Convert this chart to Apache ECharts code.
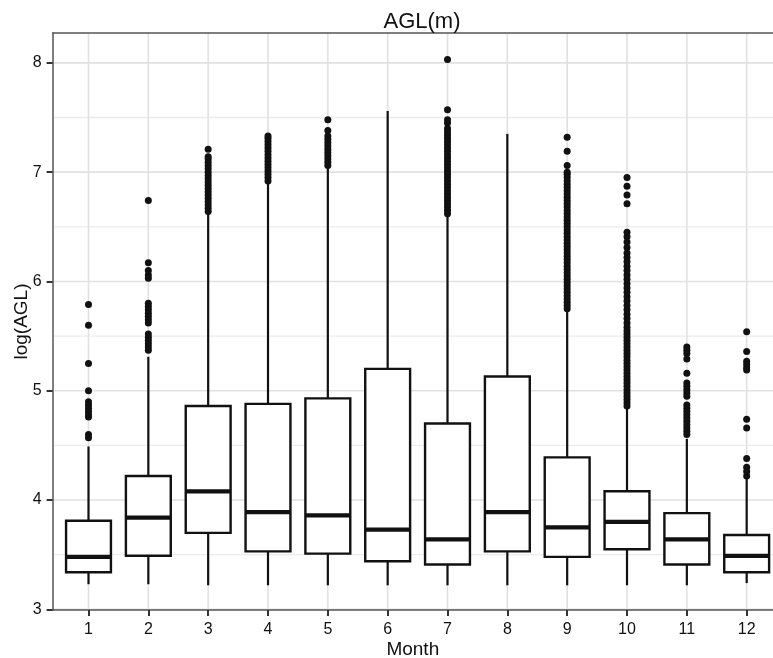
<!DOCTYPE html>
<html>
<head>
<meta charset="utf-8">
<script src="https://cdn.jsdelivr.net/npm/echarts@6/dist/echarts.min.js"></script>
<style>
  html, body { margin: 0; padding: 0; background: #fff; }
  #chart { width: 773px; height: 658px; }
</style>
</head>
<body>
<div id="chart"></div>
<script>
// Monthly distribution of log(AGL): five-number summaries per month
const months = [1, 2, 3, 4, 5, 6, 7, 8, 9, 10, 11, 12];
const lowWhisker  = [3.23, 3.23, 3.22, 3.22, 3.22, 3.22, 3.22, 3.22, 3.22, 3.22, 3.22, 3.24];
const q1          = [3.34, 3.49, 3.70, 3.53, 3.51, 3.44, 3.41, 3.53, 3.48, 3.55, 3.41, 3.34];
const medians     = [3.48, 3.84, 4.08, 3.89, 3.86, 3.73, 3.64, 3.89, 3.75, 3.80, 3.64, 3.49];
const q3          = [3.81, 4.22, 4.86, 4.88, 4.93, 5.20, 4.70, 5.13, 4.39, 4.08, 3.88, 3.68];
const highWhisker = [4.49, 5.31, 6.63, 6.91, 7.05, 7.56, 6.61, 7.35, 5.74, 4.85, 4.56, 4.20];

// Outlying observations above the upper whisker, one list per month
const outliers1 = [5.79, 5.60, 5.25, 5.00, 4.90, 4.87, 4.84, 4.81, 4.78, 4.76, 4.60, 4.57];
const outliers2 = [6.74, 6.17, 6.10, 6.06, 6.03, 5.80, 5.77, 5.74, 5.71, 5.68, 5.65, 5.62,
                   5.52, 5.49, 5.46, 5.43, 5.40, 5.37];
const outliers3 = [6.64, 6.67, 6.70, 6.73, 6.76, 6.79, 6.82, 6.85, 6.88, 6.91, 6.94, 6.97,
                   7.00, 7.03, 7.06, 7.09, 7.12, 7.14, 7.21];
const outliers4 = [6.92, 6.95, 6.98, 7.01, 7.04, 7.07, 7.10, 7.13, 7.16, 7.19, 7.22, 7.25,
                   7.28, 7.31, 7.33];
const outliers5 = [7.06, 7.09, 7.12, 7.15, 7.18, 7.21, 7.24, 7.27, 7.30, 7.33, 7.38, 7.48];
const outliers6 = [];
const outliers7 = [6.62, 6.65, 6.68, 6.71, 6.74, 6.77, 6.80, 6.83, 6.86, 6.89, 6.92, 6.95,
                   6.98, 7.01, 7.04, 7.07, 7.10, 7.13, 7.16, 7.19, 7.22, 7.25, 7.28, 7.31,
                   7.34, 7.37, 7.40, 7.45, 7.48, 7.57, 8.03];
const outliers8 = [];
const outliers9 = [5.75, 5.78, 5.81, 5.84, 5.87, 5.90, 5.93, 5.96, 5.99, 6.02, 6.05, 6.08,
                   6.11, 6.14, 6.17, 6.20, 6.23, 6.26, 6.29, 6.32, 6.35, 6.38, 6.41, 6.44,
                   6.47, 6.50, 6.53, 6.56, 6.59, 6.62, 6.65, 6.68, 6.71, 6.74, 6.77, 6.80,
                   6.83, 6.86, 6.89, 6.92, 6.95, 6.98, 7.00, 7.06, 7.19, 7.32];
const outliers10 = [4.86, 4.89, 4.92, 4.95, 4.98, 5.01, 5.04, 5.07, 5.10, 5.13, 5.16, 5.19,
                    5.22, 5.25, 5.28, 5.31, 5.34, 5.37, 5.40, 5.43, 5.46, 5.49, 5.52, 5.55,
                    5.58, 5.62, 5.66, 5.70, 5.74, 5.78, 5.82, 5.86, 5.90, 5.94, 5.98, 6.02,
                    6.06, 6.10, 6.14, 6.18, 6.22, 6.26, 6.31, 6.36, 6.41, 6.45,
                    6.71, 6.79, 6.87, 6.95];
const outliers11 = [5.40, 5.37, 5.34, 5.29, 5.16, 5.07, 5.04, 5.01, 4.98, 4.95, 4.87, 4.84,
                    4.81, 4.78, 4.75, 4.72, 4.69, 4.66, 4.63, 4.60];
const outliers12 = [5.54, 5.36, 5.27, 5.24, 5.21, 5.19, 4.74, 4.66, 4.38, 4.30, 4.26, 4.22];

const outlierLists = [outliers1, outliers2, outliers3, outliers4, outliers5, outliers6,
                      outliers7, outliers8, outliers9, outliers10, outliers11, outliers12];

// Axis ticks
const yTicks = [3, 4, 5, 6, 7, 8];
const xTickLabels = ['1', '2', '3', '4', '5', '6', '7', '8', '9', '10', '11', '12'];

// Visible window of the panel (it runs on past the right edge of the page)
const X_MIN = 0.4, X_MAX = 12.44;
const Y_MIN = 2.994, Y_MAX = 8.273;
const INK = '#111111';
const FRAME = '#555555';
const FONT = 'Liberation Sans, Arial, sans-serif';

const boxData = months.map((m, i) => [m, lowWhisker[i], q1[i], medians[i], q3[i], highWhisker[i]]);
const outlierData = [];
outlierLists.forEach((list, i) => list.forEach(v => outlierData.push([months[i], v])));

const yMinor = yTicks.slice(0, -1).map((t, i) => (t + yTicks[i + 1]) / 2);
const hGridMajor = yTicks.map(v => [months[0], v]);
const hGridMinor = yMinor.map(v => [months[0], v]);
const vGrid = months.map(m => [m, yTicks[0]]);

function gridLineRenderer(orient, color, width) {
  return function (params, api) {
    const cs = params.coordSys;
    const p = api.coord([api.value(0), api.value(1)]);
    const shape = orient === 'h'
      ? { x1: cs.x, y1: p[1], x2: cs.x + cs.width, y2: p[1] }
      : { x1: p[0], y1: cs.y, x2: p[0], y2: cs.y + cs.height };
    return { type: 'line', shape: shape, style: { stroke: color, lineWidth: width }, silent: true };
  };
}

function renderBox(params, api) {
  const x = api.value(0);
  const pLow = api.coord([x, api.value(1)]);
  const pQ1 = api.coord([x, api.value(2)]);
  const pMed = api.coord([x, api.value(3)]);
  const pQ3 = api.coord([x, api.value(4)]);
  const pHigh = api.coord([x, api.value(5)]);
  const half = api.size([0.75, 0])[0] / 2;
  const cx = pMed[0];
  const whisker = { stroke: INK, lineWidth: 2.2, fill: null };
  return {
    type: 'group',
    children: [
      { type: 'line', shape: { x1: cx, y1: pLow[1], x2: cx, y2: pQ1[1] }, style: whisker },
      { type: 'line', shape: { x1: cx, y1: pQ3[1], x2: cx, y2: pHigh[1] }, style: whisker },
      { type: 'rect', shape: { x: cx - half, y: pQ3[1], width: half * 2, height: pQ1[1] - pQ3[1] },
        style: { stroke: INK, lineWidth: 2.4, fill: '#ffffff' } },
      { type: 'line', shape: { x1: cx - half, y1: pMed[1], x2: cx + half, y2: pMed[1] },
        style: { stroke: INK, lineWidth: 4.2 } }
    ]
  };
}

const chart = echarts.init(document.getElementById('chart'), null, { renderer: 'canvas' });
chart.setOption({
  backgroundColor: '#ffffff',
  animation: false,
  title: {
    text: 'AGL(m)',
    left: 417,
    top: 6,
    textAlign: 'center',
    textStyle: { fontFamily: FONT, fontSize: 22, fontWeight: 'normal', color: INK }
  },
  grid: {
    left: 52.6, top: 33, right: 0, bottom: 48,
    show: false, containLabel: false, outerBoundsMode: 'none'
  },
  xAxis: [
    {
      type: 'value', min: X_MIN, max: X_MAX, position: 'bottom',
      name: 'Month', nameLocation: 'middle', nameGap: 30, nameMoveOverlap: false,
      nameTextStyle: { fontFamily: FONT, fontSize: 19, color: INK },
      axisLine: { show: true, lineStyle: { color: FRAME, width: 1.5 } },
      axisTick: { show: true, customValues: months, length: 6, lineStyle: { color: '#333', width: 2 } },
      axisLabel: {
        customValues: months, margin: 12,
        fontFamily: FONT, fontSize: 16, color: '#111',
        formatter: v => xTickLabels[months.indexOf(Math.round(v))]
      },
      splitLine: { show: false }
    },
    {
      // top edge of the panel frame
      type: 'value', min: X_MIN, max: X_MAX, position: 'top',
      axisLine: { show: true, lineStyle: { color: FRAME, width: 1.5 } },
      axisTick: { show: false }, axisLabel: { show: false }, splitLine: { show: false }
    }
  ],
  yAxis: {
    type: 'value', min: Y_MIN, max: Y_MAX,
    name: 'log(AGL)', nameLocation: 'middle', nameGap: 21, nameRotate: 90, nameMoveOverlap: false,
    nameTextStyle: { fontFamily: FONT, fontSize: 19, color: INK },
    axisLine: { show: true, lineStyle: { color: FRAME, width: 1.5 } },
    axisTick: { show: true, customValues: yTicks, length: 6, lineStyle: { color: '#333', width: 2 } },
    axisLabel: { customValues: yTicks, margin: 11, fontFamily: FONT, fontSize: 16, color: '#111' },
    splitLine: { show: false }
  },
  series: [
    { type: 'custom', name: 'minorGrid', data: hGridMinor, z: 0, silent: true,
      encode: { x: 0, y: 1 }, renderItem: gridLineRenderer('h', '#ececec', 1.3) },
    { type: 'custom', name: 'majorGridH', data: hGridMajor, z: 0, silent: true,
      encode: { x: 0, y: 1 }, renderItem: gridLineRenderer('h', '#e1e1e1', 1.6) },
    { type: 'custom', name: 'majorGridV', data: vGrid, z: 0, silent: true,
      encode: { x: 0, y: 1 }, renderItem: gridLineRenderer('v', '#e1e1e1', 1.6) },
    { type: 'custom', name: 'boxes', data: boxData, z: 2,
      encode: { x: 0, y: [1, 2, 3, 4, 5] }, renderItem: renderBox },
    { type: 'scatter', name: 'outliers', data: outlierData, z: 3,
      symbol: 'circle', symbolSize: 7, itemStyle: { color: INK, opacity: 1 } }
  ]
});
</script>
</body>
</html>
